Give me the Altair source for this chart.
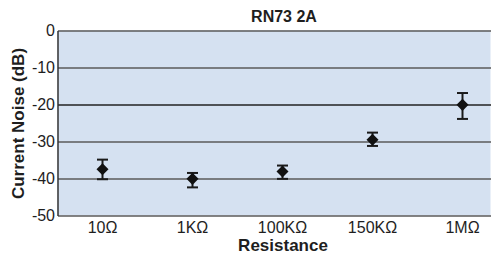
import altair as alt
import pandas as pd

categories = ["10Ω", "1KΩ", "100KΩ", "150KΩ", "1MΩ"]
mean_db = [-37.5, -40.1, -38.1, -29.5, -20.1]
upper_db = [-34.9, -38.5, -36.5, -27.6, -16.9]
lower_db = [-40.2, -42.4, -40.1, -31.2, -23.9]
y_ticks = [-50, -40, -30, -20, -10, 0]

df = pd.DataFrame({"Resistance": categories, "mean": mean_db,
                   "upper": upper_db, "lower": lower_db})

FONT = "Liberation Sans"
TXT = "#1e1e1e"

xenc = alt.X("Resistance:N", sort=categories,
             scale=alt.Scale(range=[0, 450], paddingInner=0, paddingOuter=0),
             axis=alt.Axis(title="Resistance", labelAngle=0, ticks=False, domain=False,
                           grid=False, labelFont=FONT, labelFontSize=16, labelColor=TXT,
                           labelPadding=4, titleFont=FONT, titleFontSize=17,
                           titleFontWeight="bold", titleColor=TXT, titlePadding=2))
yscale = alt.Scale(domain=[-50, 0], nice=False, zero=False)
yaxis = alt.Axis(title="Current Noise (dB)", values=y_ticks, ticks=False, domain=True,
                 domainColor="#333", domainWidth=1.5, grid=True,
                 gridColor={"condition": {"test": "datum.value === -20", "value": "#222"},
                            "value": "#5a5a5a"},
                 gridWidth=1.6, gridOpacity=1, labelFont=FONT, labelFontSize=16,
                 labelColor=TXT, labelPadding=3, labelExpr="'' + datum.value",
                 titleFont=FONT, titleFontSize=17,
                 titleFontWeight="bold", titleColor=TXT, titlePadding=4)

base = alt.Chart(df)
rules = base.mark_rule(color="#1a1a1a", strokeWidth=2).encode(
    x=xenc, y=alt.Y("lower:Q", scale=yscale, axis=yaxis), y2="upper:Q")
cap_top = base.mark_tick(size=11, thickness=2, color="#1a1a1a", opacity=1).encode(
    x=xenc, y=alt.Y("upper:Q", scale=yscale, axis=yaxis))
cap_bot = base.mark_tick(size=11, thickness=2, color="#1a1a1a", opacity=1).encode(
    x=xenc, y=alt.Y("lower:Q", scale=yscale, axis=yaxis))
pts = base.mark_point(shape="diamond", filled=True, size=145, color="#111", opacity=1).encode(
    x=xenc, y=alt.Y("mean:Q", scale=yscale, axis=yaxis))

chart = alt.layer(rules, cap_top, cap_bot, pts).properties(
    width=433, height=185,
    view=alt.ViewBackground(fill="#d5e1f1", stroke="transparent", strokeWidth=0),
    title=alt.TitleParams("RN73 2A", font=FONT, fontSize=16, fontWeight="bold",
                          color=TXT, anchor="middle", dx=10, dy=9, offset=7),
    autosize=alt.AutoSizeParams(type="none"),
    padding={"left": 49.5, "top": 22.5, "right": 0, "bottom": 40},
).configure(background="white").configure_view(strokeWidth=0)

chart.save("out.html", embed_options={"renderer": "svg", "actions": False})
